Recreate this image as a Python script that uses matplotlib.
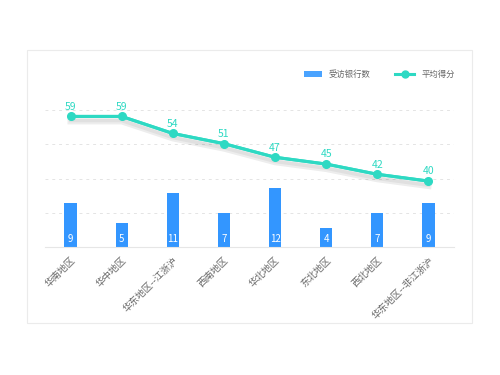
import matplotlib.pyplot as plt
import matplotlib.patheffects as pe
from matplotlib.patches import Rectangle
from matplotlib.lines import Line2D
import numpy as np

plt.rcParams['font.family'] = ['Noto Sans CJK SC', 'DejaVu Sans']

# data
regions = ['华南地区', '华中地区', '华东地区--江浙沪', '西南地区', '华北地区',
           '东北地区', '西北地区', '华东地区--非江浙沪']
bank_counts = [9, 5, 11, 7, 12, 4, 7, 9]
avg_scores = [59, 59, 54, 51, 47, 45, 42, 40]

bar_color = '#3396ff'
line_color = '#2ed9c3'

fig = plt.figure(figsize=(5, 3.75), dpi=100)
fig.patch.set_facecolor('white')

# card border (behind the axes)
fig.patches.append(Rectangle((0.054, 0.139), 0.89, 0.728, transform=fig.transFigure,
                             facecolor='white', edgecolor='#ebebeb', linewidth=0.8,
                             zorder=-10))

ax = fig.add_axes([0.09, 0.341, 0.818, 0.3653])
ax.patch.set_alpha(0)
x = np.arange(len(regions))
ax.bar(x, bank_counts, width=0.24, color=bar_color, zorder=2)
ax.set_xlim(-0.5, len(regions) - 0.5)
ax.set_ylim(0, 28)
ax.set_yticks([7, 14, 21, 28])
ax.yaxis.grid(True, linestyle=(0, (3, 4)), color='#e4e4e4', linewidth=0.7)
ax.set_xticks(x)
ax.set_xticklabels(regions, rotation=45, ha='right', rotation_mode='anchor',
                   fontsize=6.8, color='#666666')
for s in ['top', 'left', 'right']:
    ax.spines[s].set_visible(False)
ax.spines['bottom'].set_color('#e6e6e6')
ax.spines['bottom'].set_linewidth(0.8)
ax.set_axisbelow(True)

for xi, v in zip(x, bank_counts):
    ax.annotate(str(v), (xi, 0), xytext=(0, 6), textcoords='offset points',
                ha='center', va='center', color='white', fontsize=7, zorder=3)

ax2 = ax.twinx()
ax2.set_ylim(20.6, 60.85)
ax2.axis('off')
# twinx turns the left ticks back on
ax.tick_params(axis='y', left=False, labelleft=False)
ax.tick_params(axis='x', length=0, pad=6)

# soft shadow under the line
ax2.plot(x, avg_scores, color=line_color, linewidth=2.2, zorder=3,
         path_effects=[pe.SimpleLineShadow(offset=(0, -3.5), shadow_color='black',
                                           alpha=0.07, linewidth=4.5),
                       pe.SimpleLineShadow(offset=(0, -3), shadow_color='black',
                                           alpha=0.05, linewidth=2.5),
                       pe.Normal()])
ax2.plot(x, avg_scores, color=line_color, linewidth=2.2, marker='o',
         markersize=5.5, zorder=4)
for xi, v in zip(x, avg_scores):
    ax2.annotate(str(v), (xi, v), xytext=(0, 7), textcoords='offset points',
                 ha='center', va='center', color=line_color, fontsize=7.5)

# legend
fig.add_artist(Rectangle((0.608, 1 - 77.3 / 375), 0.036, 6.6 / 375,
                         transform=fig.transFigure, facecolor='#4aa3ff',
                         edgecolor='none'))
fig.text(0.658, 1 - 74 / 375, '受访银行数', fontsize=6, color='#666666', va='center')
fig.add_artist(Line2D([0.79, 0.828], [1 - 74 / 375] * 2, transform=fig.transFigure,
                      color=line_color, linewidth=2.2))
fig.add_artist(Line2D([0.809], [1 - 74 / 375], transform=fig.transFigure,
                      color=line_color, marker='o', markersize=5))
fig.text(0.843, 1 - 74 / 375, '平均得分', fontsize=6, color='#666666', va='center')

fig.savefig('out.png', dpi=100)
